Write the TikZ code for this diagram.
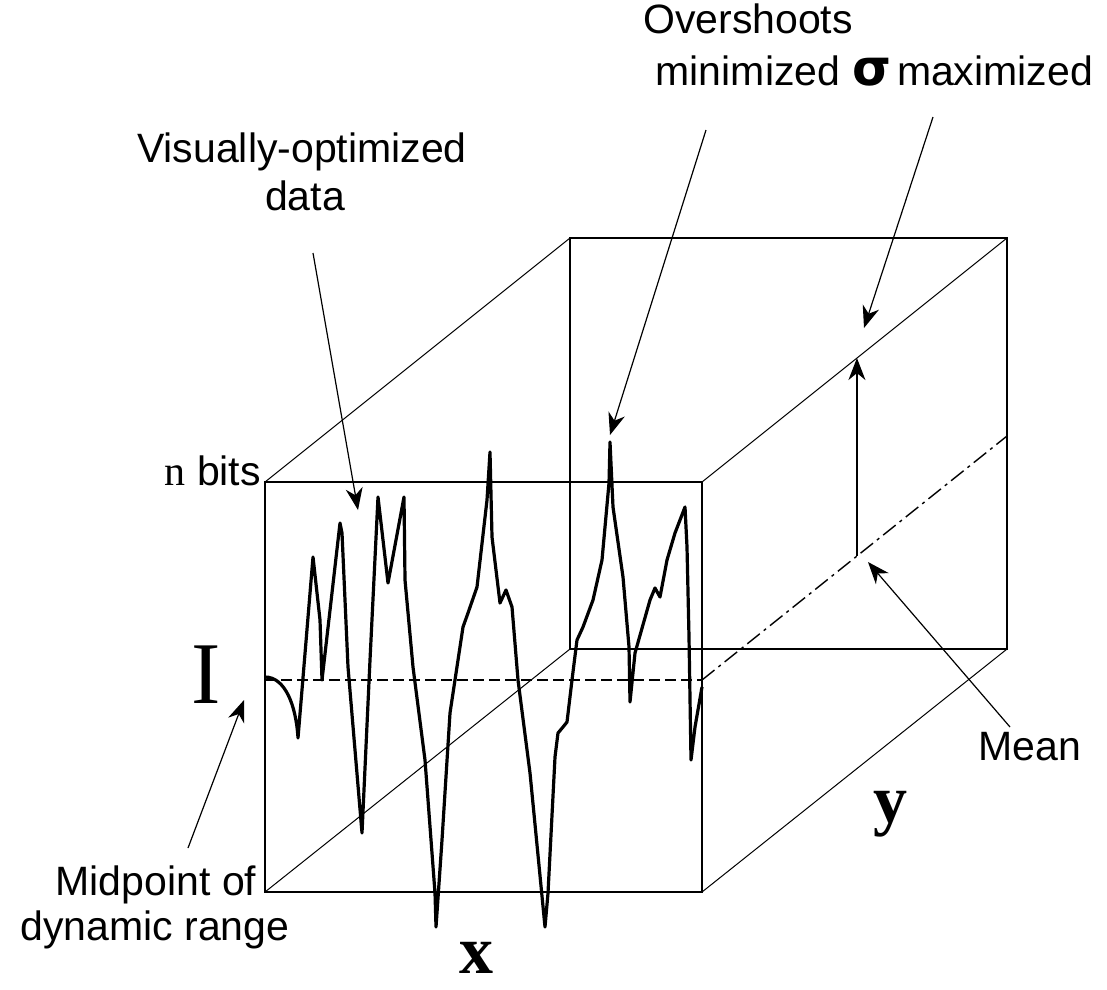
\documentclass[tikz,border=0pt]{standalone}
\usepackage{fontspec}
\setmainfont{Liberation Sans}
\newfontfamily\timesfont{Liberation Serif}
\newfontfamily\greekfont{DejaVu Sans}
\usetikzlibrary{arrows.meta,calc}

\tikzset{
  note/.style={font=\fontsize{41}{47}\selectfont, inner sep=0pt, anchor=base},
  axisname/.style={font=\timesfont\bfseries\fontsize{68}{68}\selectfont, inner sep=0pt, anchor=base},
  boxline/.style={line width=1.5pt},
  depthline/.style={line width=1pt},
  pointer/.style={line width=1.2pt, -{Stealth[length=22pt,width=17pt,inset=7pt]}},
  signal/.style={line width=3.2pt, line join=round},
  meanline/.style={line width=1.5pt, dash pattern=on 11pt off 5pt},
  meandepth/.style={line width=1.4pt, dash pattern=on 16pt off 5pt on 3pt off 5pt}
}

\begin{document}
\begin{tikzpicture}[x=1pt, y=-1pt]
\useasboundingbox (0,0) rectangle (1107,989);

% corners of the data cube
\coordinate (ftl) at (265,482);
\coordinate (ftr) at (702,482);
\coordinate (fbl) at (265,892);
\coordinate (fbr) at (702,892);
\coordinate (btl) at (570,238);
\coordinate (btr) at (1007,238);
\coordinate (bbl) at (570,649);
\coordinate (bbr) at (1007,649);

% mean level
\coordinate (mfl) at (265,680);
\coordinate (mfr) at (702,680);
\coordinate (mbr) at (1007,436);
\coordinate (mtop) at ($(ftr)!0.508!(btr)$);
\coordinate (mbot) at ($(mfr)!0.508!(mbr)$);

% cube
\draw[boxline] (btl) rectangle (bbr);
\draw[boxline] (ftl) rectangle (fbr);
\draw[depthline] (ftl) -- (btl);
\draw[depthline] (ftr) -- (btr);
\draw[depthline] (fbl) -- (bbl);
\draw[depthline] (fbr) -- (bbr);

% mean
\draw[meanline] (mfl) -- (mfr);
\draw[meandepth] (mfr) -- (mbr);

% data trace
\draw[signal] (265,677) .. controls (285,677) and (296,705) .. (298,738)
  -- (313,557) -- (320,620) -- (322,680) -- (340,523) -- (342,533)
  -- (348,667) -- (362,833) -- (370,660) -- (378,497) -- (388,583)
  -- (404,497) -- (405,580) -- (413,667) -- (425,760) -- (435,893)
  -- (436,927) -- (442,840) -- (450,713) -- (463,627) -- (468,613)
  -- (477,587) -- (487,500) -- (490,452) -- (492,537) -- (500,603)
  -- (506,590) -- (512,607) -- (518,680) -- (530,773) -- (545,927)
  -- (548,893) -- (555,757) -- (558,733) -- (563,727) -- (567,722)
  -- (572,680) -- (577,640) -- (583,627) -- (593,600) -- (602,560)
  -- (609,483) -- (610,442) -- (613,507) -- (623,577) -- (629,647)
  -- (630,702) -- (635,653) -- (650,600) -- (655,588) -- (660,597)
  -- (667,560) -- (675,533) -- (685,507) -- (687,547) -- (689,637)
  -- (691,760) -- (695,727) -- (702,687);

% labels
\node[note] (vis1) at (302,162) {Visually-optimized};
\node[note] (vis2) at (305,210) {data};
\node[note] (over1) at (748,33) {Overshoots};
\node[note] (over2) at (748,85) {minimized};
\node[note, font=\greekfont\bfseries\fontsize{50}{50}\selectfont] (sig) at (872,85) {σ};
\node[note] (sigmax) at (995,85) {maximized};
\node[note, anchor=base east] (nbits) at (261,485) {{\timesfont\fontsize{42}{42}\selectfont n} bits};
\node[note, font=\timesfont\fontsize{88}{88}\selectfont] (ilev) at (206,703) {I};
\node[note] (mean) at (1030,760) {Mean};
\node[note] (mid1) at (156,895) {Midpoint of};
\node[note] (mid2) at (155,940) {dynamic range};
\node[axisname] (xax) at (476,973) {x};
\node[axisname] (yax) at (890,822) {y};

% pointers
\coordinate (vistail) at (313,253);
\coordinate (vistip) at (358,510);
\coordinate (overtail) at (706,130);
\coordinate (overtip) at (610,435);
\coordinate (sigtail) at (933,117);
\coordinate (sigtip) at (864,328);
\coordinate (meantail) at (1010,727);
\coordinate (meantip) at (868,562);
\coordinate (midtail) at (188,848);
\coordinate (midtip) at (244,700);

\draw[pointer] (vistail) -- (vistip);
\draw[pointer] (overtail) -- (overtip);
\draw[pointer] (sigtail) -- (sigtip);
\draw[pointer] (mbot) -- (mtop);
\draw[pointer] (meantail) -- (meantip);
\draw[pointer] (midtail) -- (midtip);
\end{tikzpicture}
\end{document}
